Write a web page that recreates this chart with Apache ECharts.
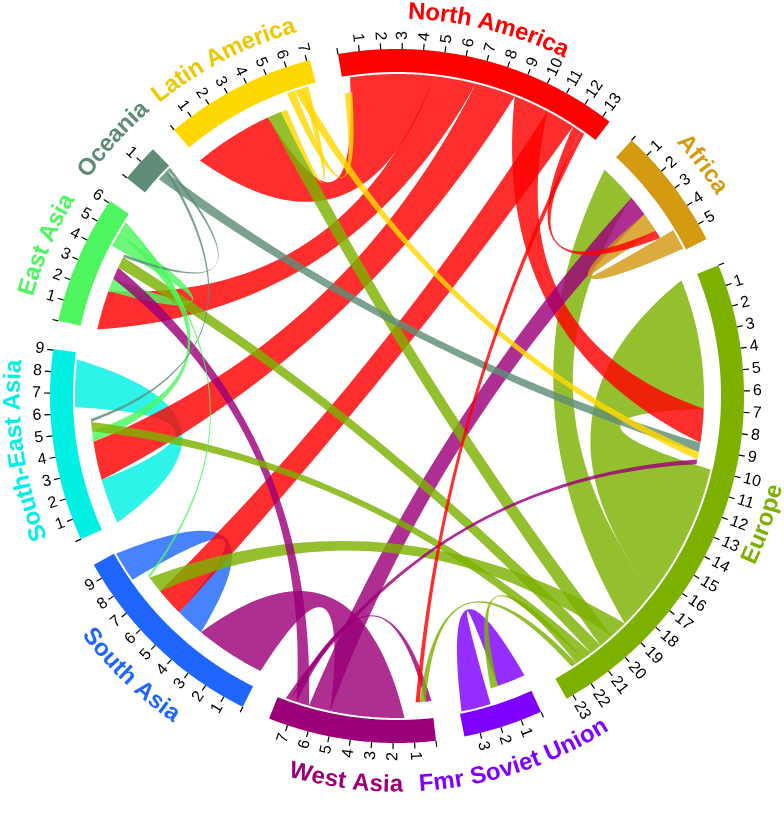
<!DOCTYPE html>
<html><head><meta charset="utf-8">
<script src="https://cdn.jsdelivr.net/npm/echarts@6.0.0/dist/echarts.min.js"></script>
<style>html,body{margin:0;padding:0;background:#fff}#c{width:784px;height:830px}</style>
</head><body><div id="c"></div>
<script>
// ---------------- data ----------------
const regions = ['North America','Africa','Europe','Fmr Soviet Union','West Asia','South Asia','South-East Asia','East Asia','Oceania','Latin America'];
// drawn flows: origin (attached end, coloured like origin) -> destination (end drawn with a gap); values in tick units
const flowFrom  = [0,0,0,0,0,0,0, 1, 2,2,2,2,2,2,2,2, 3, 4,4,4,4,4, 5, 6, 7,7,7, 8,8,8, 9,9,9];
const flowTo    = [9,7,6,2,5,1,4, 1, 2,1,5,9,7,6,3,4, 3, 5,1,7,4,2, 5, 6, 7,6,5, 2,6,7, 0,2,9];
const flowValue = [4.25,2.1,2.05,1.8,1.5,0.45,0.22, 1.05, 6.9,2.05,0.9,0.74,0.6,0.5,0.4,0.3, 1.5, 3.75,1.1,0.65,0.32,0.25, 1.55, 2.4, 0.7,0.55,0.12, 0.5,0.15,0.15, 0.4,0.4,0.33];
// flows too small to be drawn, summed per region (they still take room on the sectors)
const smallIn  = [0, 0, 0.1, 0.25, 0.6, 0.3, 0.65, 0.1, 0.95, 0.3];
const smallOut = [0.63, 0.1, 1.0, 0.1, 0.4, 0.05, 0.35, 0.43, 0.05, 0.4];

// ---------------- styles ----------------
const bandColors   = ['#FF0000','#D39A12','#7DB100','#7F00FF','#9C0079','#1F66FF','#00F0E4','#4DF65E','#5E8C76','#FFD800'];
const labelColors  = ['#FF0000','#D39A12','#7DB100','#7F00FF','#9C0079','#1F66FF','#00F0E4','#4DF65E','#5E8C76','#EDC800'];
const ribbonAlpha  = 0.82;
const gapDeg = 4.75, startDeg = -9.8;
const R_ATT = 322, R_GAP = 307, R_IN = 324, R_OUT = 347, R_T0 = 347, R_T1 = 353, R_TL = 356, R_LAB = 384, R_LAB_FLIP = 389;
const K = 0.44;
const FONT = '"Liberation Sans", Arial, Helvetica, sans-serif';

// ---------------- layout ----------------
const N = regions.length;
const inSum = smallIn.slice(), outSum = smallOut.slice();
flowValue.forEach((v,k)=>{ outSum[flowFrom[k]] += v; inSum[flowTo[k]] += v; });
const sectorSize = regions.map((_,i)=>inSum[i]+outSum[i]);
const totalUnits = sectorSize.reduce((a,b)=>a+b,0);
const unitDeg = (360 - N*gapDeg)/totalUnits;
const sectorStart = []; let acc = startDeg;
for (let i=0;i<N;i++){ sectorStart.push(acc); acc += sectorSize[i]*unitDeg + gapDeg; }
const dstSlot = [], srcSlot = [];
const idx = flowValue.map((v,k)=>k);
for (let i=0;i<N;i++){
  let pos = 0;
  idx.filter(k=>flowTo[k]===i).sort((a,b)=>flowValue[b]-flowValue[a]).forEach(k=>{dstSlot[k]=[pos,pos+flowValue[k]];pos+=flowValue[k];});
  pos += smallIn[i];
  idx.filter(k=>flowFrom[k]===i).sort((a,b)=>flowValue[b]-flowValue[a]).forEach(k=>{srcSlot[k]=[pos,pos+flowValue[k]];pos+=flowValue[k];});
}
const u2d = (i,u)=>sectorStart[i]+u*unitDeg;
const drawOrder = idx.slice().sort((a,b)=>flowValue[b]-flowValue[a]);

function hexA(h,a){const n=parseInt(h.slice(1),16);return 'rgba('+(n>>16&255)+','+(n>>8&255)+','+(n&255)+','+a+')';}
const norm = d => ((d%360)+360)%360;
function mk(api){ return (r,deg)=>api.coord([r, norm(deg)]); }
function arc(P,r,d1,d2){ const n=Math.max(2,Math.ceil(Math.abs(d2-d1)/0.4)+1); const o=[]; for(let s=0;s<n;s++) o.push(P(r,d1+(d2-d1)*s/(n-1))); return o; }
function bez(p0,c,p2,n){ const o=[]; for(let s=1;s<n;s++){const t=s/n,u=1-t; o.push([u*u*p0[0]+2*u*t*c[0]+t*t*p2[0], u*u*p0[1]+2*u*t*c[1]+t*t*p2[1]]);} return o; }

const measureCtx = document.createElement('canvas').getContext('2d');

// ---------------- series ----------------
const ribbonSeries = {
  type:'custom', coordinateSystem:'polar', silent:true, animation:false,
  data: drawOrder.map(k=>[0,k]),
  renderItem(params, api){
    const k = drawOrder[params.dataIndex];
    const P = mk(api), O = P(0,0);
    const s = flowFrom[k], t = flowTo[k];
    const A = arc(P,R_ATT,u2d(s,srcSlot[k][0]),u2d(s,srcSlot[k][1]));
    const B = arc(P,R_GAP,u2d(t,dstSlot[k][0]),u2d(t,dstSlot[k][1]));
    const ctrl=(p,q)=>[O[0]+K*((p[0]+q[0])/2-O[0]), O[1]+K*((p[1]+q[1])/2-O[1])];
    const a2=A[A.length-1], b1=B[0], b2=B[B.length-1], a1=A[0];
    const pts = A.concat(bez(a2,ctrl(a2,b1),b1,40), B, bez(b2,ctrl(b2,a1),a1,40));
    return {type:'polygon', shape:{points:pts}, style:{fill:hexA(bandColors[s],ribbonAlpha), stroke:null}};
  }
};

const bandSeries = {
  type:'custom', coordinateSystem:'polar', silent:true, animation:false,
  data: regions.map((_,i)=>[0,i]),
  renderItem(params, api){
    const i = params.dataIndex, P = mk(api);
    const d1 = sectorStart[i], d2 = d1 + sectorSize[i]*unitDeg;
    const pts = arc(P,R_OUT,d1,d2).concat(arc(P,R_IN,d2,d1));
    return {type:'polygon', shape:{points:pts}, style:{fill:bandColors[i]}};
  }
};

const tickSeries = {
  type:'custom', coordinateSystem:'polar', silent:true, animation:false,
  data: regions.map((_,i)=>[0,i]),
  renderItem(params, api){
    const i = params.dataIndex, P = mk(api);
    const children = [];
    const nT = Math.floor(sectorSize[i]+1e-9);
    for (let u=0; u<=nT; u++){
      const d = u2d(i,u), p0 = P(R_T0,d), p1 = P(R_T1,d);
      children.push({type:'line', shape:{x1:p0[0],y1:p0[1],x2:p1[0],y2:p1[1]}, style:{stroke:'#000', lineWidth:1.2}});
      if (u>0){
        const dn = norm(d), pl = P(R_TL,d), right = dn < 180;
        const rot = (right ? 90-dn : 270-dn)*Math.PI/180;
        children.push({type:'text', x:pl[0], y:pl[1], rotation:rot,
          style:{text:String(u), fill:'#000', fontSize:16, fontFamily:FONT, align:right?'left':'right', verticalAlign:'middle'}});
      }
    }
    return {type:'group', children};
  }
};

const labelSeries = {
  type:'custom', coordinateSystem:'polar', silent:true, animation:false,
  data: regions.map((_,i)=>[0,i]),
  renderItem(params, api){
    const i = params.dataIndex, P = mk(api);
    const name = regions[i];
    measureCtx.font = 'bold 24px ' + FONT;
    const W = measureCtx.measureText(name).width;
    const mid = norm(sectorStart[i] + sectorSize[i]*unitDeg/2);
    const flip = mid > 90 && mid < 255;
    const rL = flip ? R_LAB_FLIP : R_LAB;
    const toDeg = 180/Math.PI/rL;
    const children = []; let x = 0;
    for (const ch of name){
      const w = measureCtx.measureText(ch).width;
      const off = (x + w/2 - W/2)*toDeg;
      const th = flip ? mid - off : mid + off;
      const p = P(rL, th);
      const rot = (flip ? 180 - th : -th)*Math.PI/180;
      children.push({type:'text', x:p[0], y:p[1], rotation:rot,
        style:{text:ch, fill:labelColors[i], fontSize:24, fontWeight:'bold', fontFamily:FONT, align:'center', verticalAlign:'middle'}});
      x += w;
    }
    return {type:'group', children};
  }
};

const chart = echarts.init(document.getElementById('c'), null, {renderer:'canvas'});
chart.setOption({
  animation:false,
  backgroundColor:'#ffffff',
  polar:{center:[397,396], radius:400},
  angleAxis:{type:'value', min:0, max:360, startAngle:90, clockwise:true, show:false},
  radiusAxis:{type:'value', min:0, max:400, show:false},
  series:[ribbonSeries, bandSeries, tickSeries, labelSeries]
});
</script></body></html>
